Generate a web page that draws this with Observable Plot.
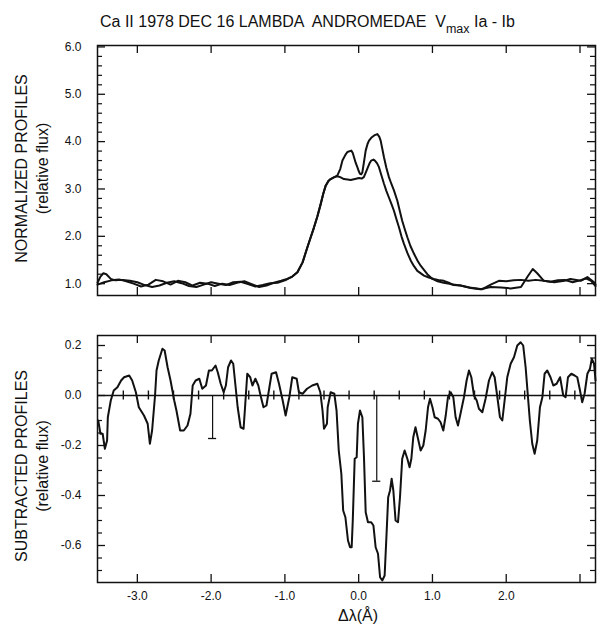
<!DOCTYPE html>
<html><head><meta charset="utf-8">
<script src="https://cdn.jsdelivr.net/npm/d3@7"></script>
<script src="https://cdn.jsdelivr.net/npm/@observablehq/plot@0.6"></script>
<style>
body{margin:0;background:#fff;}
#wrap{position:relative;width:597px;height:630px;font-family:"Liberation Sans",Arial,sans-serif;color:#111;}
#title{position:absolute;top:13px;left:100px;font-size:16px;white-space:pre;}
#title .sub{font-size:12.5px;position:relative;top:6px;}
#xlab{position:absolute;top:607px;left:308px;width:100px;text-align:center;font-size:16px;}
#top{position:absolute;top:0;left:0;}
#bot{position:absolute;top:310px;left:0;}
</style></head><body>
<div id="wrap"><div id="top"></div><div id="bot"></div>
<div id="title">Ca II 1978 DEC 16 LAMBDA  ANDROMEDAE  V<span class="sub">max</span> Ia - Ib</div>
<div id="xlab">Δλ(Å)</div>
</div>
<script>
// ---- data ----
const titleText = "Ca II 1978 DEC 16 LAMBDA ANDROMEDAE Vmax Ia - Ib";
const topYLabel1 = "NORMALIZED PROFILES", topYLabel2 = "(relative flux)";
const botYLabel1 = "SUBTRACTED PROFILES", botYLabel2 = "(relative flux)";

const xMajor = [-3, -2, -1, 0, 1, 2, 3];
const xLabelTicks = [-3, -2, -1, 0, 1, 2];
const topYMajor = [1, 2, 3, 4, 5, 6];
const topYMinor = [1.2,1.4,1.6,1.8,2.2,2.4,2.6,2.8,3.2,3.4,3.6,3.8,4.2,4.4,4.6,4.8,5.2,5.4,5.6,5.8];
const botYMajor = [-0.6, -0.4, -0.2, 0, 0.2];
const botYMinor = [-0.7,-0.65,-0.55,-0.5,-0.45,-0.35,-0.3,-0.25,-0.15,-0.1,-0.05,0.05,0.1,0.15];
const zeroTicks = [-3.19,-2.85,-2.51,-2.17,-1.83,-1.49,-1.15,-0.81,-0.47,-0.13,0.21,0.55,0.89,1.23,1.57,1.91,2.25,2.59,2.93];

const profAx = [-3.54,-3.5,-3.46,-3.42,-3.36,-3.3,-3.2,-3.1,-3.0,-2.9,-2.8,-2.7,-2.6,-2.5,-2.4,-2.3,-2.2,-2.1,-2.0,-1.9,-1.8,-1.7,-1.6,-1.5,-1.4,-1.3,-1.2,-1.1,-1.0,-0.9,-0.83,-0.76,-0.695,-0.65,-0.605,-0.56,-0.515,-0.48,-0.447,-0.41,-0.38,-0.33,-0.29,-0.25,-0.22,-0.18,-0.153,-0.12,-0.1,-0.08,-0.063,-0.04,-0.018,0.0,0.018,0.035,0.05,0.07,0.095,0.12,0.14,0.17,0.21,0.253,0.28,0.298,0.32,0.343,0.375,0.41,0.445,0.478,0.524,0.56,0.59,0.625,0.66,0.7,0.75,0.8,0.84,0.93,1.0,1.07,1.15,1.25,1.38,1.52,1.65,1.79,1.93,2.06,2.2,2.29,2.36,2.42,2.51,2.65,2.79,2.87,3.01,3.1,3.19,3.21];
const profAy = [1.02,1.15,1.22,1.2,1.1,1.07,1.08,1.06,1.03,0.97,0.93,0.96,1.02,1.05,1.01,0.95,0.93,0.98,1.03,1.0,0.97,1.03,1.04,0.99,0.94,0.97,1.01,1.02,1.07,1.15,1.24,1.45,1.77,1.98,2.19,2.42,2.68,2.9,3.07,3.17,3.21,3.25,3.28,3.42,3.6,3.72,3.78,3.8,3.81,3.76,3.67,3.55,3.46,3.38,3.32,3.31,3.35,3.55,3.81,3.95,4.02,4.08,4.13,4.16,4.1,4.02,3.85,3.67,3.45,3.25,3.1,2.97,2.75,2.52,2.33,2.15,1.98,1.8,1.63,1.48,1.38,1.2,1.1,1.05,1.02,0.99,0.96,0.91,0.88,0.93,0.92,0.9,0.93,1.15,1.31,1.22,1.06,1.03,1.06,1.1,1.06,1.14,1.03,0.98];

const profBx = [-3.54,-3.45,-3.35,-3.25,-3.15,-3.05,-2.95,-2.85,-2.75,-2.65,-2.55,-2.45,-2.35,-2.25,-2.15,-2.05,-1.95,-1.85,-1.75,-1.65,-1.55,-1.45,-1.35,-1.25,-1.15,-1.05,-0.97,-0.9,-0.83,-0.76,-0.695,-0.65,-0.605,-0.56,-0.515,-0.48,-0.447,-0.41,-0.38,-0.33,-0.29,-0.25,-0.2,-0.15,-0.108,-0.05,0.004,0.04,0.07,0.1,0.126,0.15,0.17,0.2,0.22,0.25,0.275,0.31,0.343,0.375,0.41,0.445,0.478,0.51,0.546,0.58,0.614,0.66,0.705,0.75,0.795,0.885,0.95,1.02,1.1,1.155,1.22,1.29,1.38,1.5,1.6,1.67,1.79,1.9,2.0,2.1,2.2,2.3,2.4,2.51,2.6,2.7,2.79,2.9,3.0,3.08,3.15,3.21];
const profBy = [0.98,1.03,1.07,1.09,1.05,1.0,0.94,0.98,1.08,1.05,0.98,1.06,1.03,0.96,1.02,1.0,0.95,1.0,0.97,1.02,1.05,0.99,0.93,0.96,1.02,1.06,1.1,1.15,1.24,1.45,1.77,1.98,2.19,2.42,2.68,2.9,3.07,3.17,3.21,3.25,3.27,3.25,3.21,3.2,3.19,3.21,3.23,3.22,3.25,3.36,3.46,3.55,3.6,3.62,3.6,3.54,3.46,3.28,3.11,2.96,2.82,2.68,2.54,2.37,2.19,2.0,1.84,1.65,1.49,1.37,1.27,1.17,1.13,1.1,1.07,1.06,1.02,0.97,0.96,0.92,0.9,0.88,0.98,1.06,1.05,1.07,1.08,1.06,1.08,1.06,1.04,1.07,1.08,1.03,1.07,1.11,1.06,0.95];

const diffX = [-3.53,-3.50,-3.47,-3.44,-3.41,-3.40,-3.36,-3.32,-3.27,-3.22,-3.18,-3.11,-3.07,-3.02,-2.98,-2.91,-2.86,-2.83,-2.80,-2.76,-2.74,-2.71,-2.66,-2.63,-2.59,-2.55,-2.50,-2.47,-2.42,-2.37,-2.32,-2.28,-2.25,-2.21,-2.16,-2.12,-2.07,-2.03,-1.99,-1.94,-1.91,-1.87,-1.83,-1.80,-1.77,-1.73,-1.70,-1.67,-1.64,-1.60,-1.56,-1.54,-1.51,-1.47,-1.44,-1.40,-1.36,-1.33,-1.29,-1.25,-1.21,-1.18,-1.12,-1.08,-1.03,-0.99,-0.94,-0.90,-0.84,-0.81,-0.76,-0.70,-0.63,-0.56,-0.52,-0.49,-0.47,-0.43,-0.42,-0.38,-0.33,-0.30,-0.27,-0.235,-0.21,-0.18,-0.145,-0.117,-0.095,-0.08,-0.054,-0.027,-0.01,0.018,0.05,0.072,0.095,0.126,0.17,0.20,0.23,0.262,0.29,0.32,0.352,0.38,0.40,0.425,0.447,0.47,0.50,0.533,0.56,0.59,0.623,0.66,0.69,0.714,0.74,0.77,0.80,0.84,0.876,0.908,0.94,0.967,1.0,1.03,1.075,1.11,1.147,1.18,1.21,1.247,1.283,1.314,1.346,1.38,1.427,1.463,1.495,1.527,1.563,1.60,1.63,1.676,1.72,1.766,1.81,1.843,1.88,1.915,1.947,1.978,2.014,2.06,2.105,2.15,2.195,2.23,2.263,2.295,2.32,2.353,2.385,2.42,2.457,2.49,2.52,2.556,2.60,2.638,2.683,2.73,2.773,2.805,2.837,2.882,2.927,2.963,3.0,3.03,3.062,3.10,3.135,3.16,3.19,3.21];
const diffY = [-0.10,-0.153,-0.153,-0.213,-0.18,-0.087,-0.02,0.02,0.033,0.06,0.073,0.08,0.06,0.013,-0.047,-0.08,-0.113,-0.193,-0.14,0,0.10,0.14,0.187,0.18,0.113,0.06,-0.02,-0.06,-0.14,-0.14,-0.12,-0.073,0.04,0.06,0.067,0.027,0.04,0.10,0.10,0.12,0.093,0.047,0.013,0.04,0.113,0.14,0.127,0.04,-0.047,-0.127,-0.133,-0.047,0.087,0.073,0.04,0.067,0.04,0,-0.047,-0.04,0.033,0.087,0.093,0.047,-0.02,-0.08,-0.007,0.073,0.067,0.013,0.007,0.027,0.04,0.047,0.013,-0.06,-0.133,-0.113,-0.047,0.013,0.007,-0.06,-0.22,-0.313,-0.46,-0.487,-0.58,-0.607,-0.607,-0.50,-0.253,-0.247,-0.113,-0.06,-0.087,-0.247,-0.467,-0.507,-0.507,-0.52,-0.607,-0.633,-0.727,-0.74,-0.72,-0.54,-0.407,-0.38,-0.333,-0.38,-0.50,-0.507,-0.407,-0.253,-0.22,-0.253,-0.287,-0.253,-0.167,-0.127,-0.167,-0.22,-0.20,-0.14,-0.047,-0.013,-0.047,-0.087,-0.093,-0.107,-0.14,-0.08,-0.007,0.013,-0.007,-0.087,-0.12,-0.073,-0.007,0.06,0.10,0.073,0,-0.02,-0.053,-0.067,-0.013,0.06,0.093,0.073,-0.007,-0.087,-0.10,-0.02,0.073,0.127,0.153,0.20,0.213,0.20,0.113,-0.007,-0.10,-0.193,-0.233,-0.18,-0.047,-0.007,0.087,0.10,0.073,0.04,0.047,0.073,0,-0.007,0.073,0.087,0.08,0.073,0.02,-0.027,0.007,0.087,0.107,0.147,0.127,0.06];

const errX = [-1.98, 0.245];
const errLow = [-0.172, -0.343];

// ---- layout / style ----
const W = 597, ML = 97, MR = 2;
const FW = W - ML - MR;
const font = "'Liberation Sans', Arial, sans-serif";
const fmt = d => d.toFixed(1);
const ink = "#111";
const zeroTickHalf = 0.018;   // half-length of the small ticks on the zero line (y units)
const capHalf = 0.055;        // half-width of error-bar caps (x units)

function frameTicks(fh, yMajor, yMinor) {
  return [
    Plot.tickX(xMajor, {x: d => d, insetTop: fh - 8, stroke: ink, strokeWidth: 1.3}),
    Plot.tickX(xMajor, {x: d => d, insetBottom: fh - 8, stroke: ink, strokeWidth: 1.3}),
    Plot.tickY(yMajor, {y: d => d, insetRight: FW - 8, stroke: ink, strokeWidth: 1.3}),
    Plot.tickY(yMajor, {y: d => d, insetLeft: FW - 8, stroke: ink, strokeWidth: 1.3}),
    Plot.tickY(yMinor, {y: d => d, insetRight: FW - 5, stroke: ink, strokeWidth: 1.2}),
    Plot.tickY(yMinor, {y: d => d, insetLeft: FW - 5, stroke: ink, strokeWidth: 1.2})
  ];
}

function yLabels(l1, l2, dy) {
  return [
    Plot.text([l1], {text: d => d, frameAnchor: "left", textAnchor: "middle", dx: -76, dy, rotate: -90, fontSize: 16, fill: ink}),
    Plot.text([l2], {text: d => d, frameAnchor: "left", textAnchor: "middle", dx: -55, dy, rotate: -90, fontSize: 16, fill: ink})
  ];
}

const topFH = 250;
const topPlot = Plot.plot({
  width: W, height: 310, marginLeft: ML, marginRight: MR, marginTop: 45, marginBottom: 15,
  style: {fontFamily: font, fontSize: "12px", color: ink, background: "transparent", overflow: "visible"},
  x: {domain: [-3.54, 3.21], axis: null},
  y: {domain: [0.75, 6.03]},
  marks: [
    Plot.axisY(topYMajor, {tickSize: 0, tickPadding: 16, tickFormat: fmt, fontSize: 12, label: null}),
    ...frameTicks(topFH, topYMajor, topYMinor),
    Plot.line(profAx.map((x, i) => ({x, y: profAy[i]})), {x: "x", y: "y", stroke: ink, strokeWidth: 2}),
    Plot.line(profBx.map((x, i) => ({x, y: profBy[i]})), {x: "x", y: "y", stroke: ink, strokeWidth: 2}),
    ...yLabels(topYLabel1, topYLabel2, -2),
    Plot.frame({stroke: ink, strokeWidth: 1.5})
  ]
});
document.getElementById("top").append(topPlot);

const botFH = 247;
const botPlot = Plot.plot({
  width: W, height: 320, marginLeft: ML, marginRight: MR, marginTop: 25, marginBottom: 48,
  style: {fontFamily: font, fontSize: "12px", color: ink, background: "transparent", overflow: "visible"},
  x: {domain: [-3.54, 3.21]},
  y: {domain: [-0.748, 0.24]},
  marks: [
    Plot.axisY(botYMajor, {tickSize: 0, tickPadding: 16, tickFormat: fmt, fontSize: 12, label: null}),
    Plot.axisX(xLabelTicks, {tickSize: 0, tickPadding: 9, tickFormat: fmt, fontSize: 12, label: null}),
    ...frameTicks(botFH, botYMajor, botYMinor),
    Plot.ruleY([0], {stroke: ink, strokeWidth: 1.3}),
    Plot.ruleX(zeroTicks.map(x => ({x, hi: zeroTickHalf, lo: -zeroTickHalf})), {x: "x", y1: "hi", y2: "lo", stroke: ink, strokeWidth: 1.4}),
    Plot.ruleX(errX.map((x, i) => ({x, y: errLow[i]})), {x: "x", y1: d => 0, y2: "y", stroke: ink, strokeWidth: 1.2}),
    Plot.ruleY(errX.map((x, i) => ({x1: x - capHalf, x2: x + capHalf, y: errLow[i]})), {x1: "x1", x2: "x2", y: "y", stroke: ink, strokeWidth: 1.3}),
    Plot.line(diffX.map((x, i) => ({x, y: diffY[i]})), {x: "x", y: "y", stroke: ink, strokeWidth: 2}),
    ...yLabels(botYLabel1, botYLabel2, 7),
    Plot.frame({stroke: ink, strokeWidth: 1.5})
  ]
});
document.getElementById("bot").append(botPlot);
</script>
</body></html>
